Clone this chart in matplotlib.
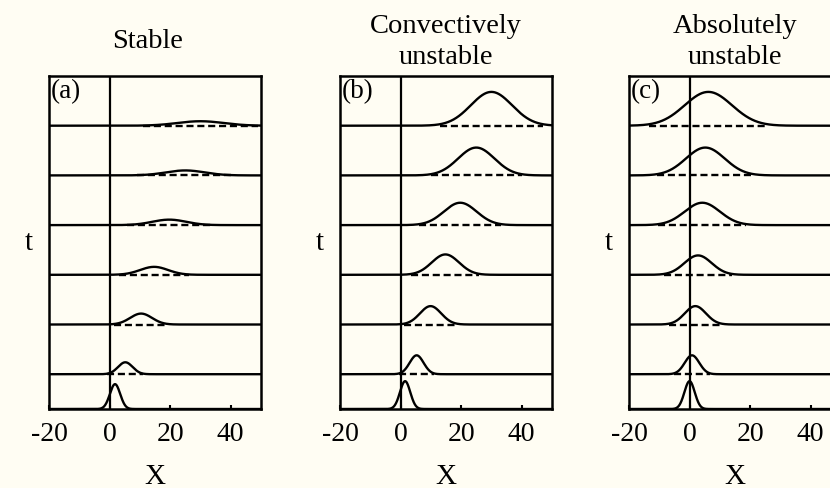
import matplotlib
matplotlib.use('Agg')
import matplotlib.pyplot as plt
import numpy as np

plt.rcParams['font.family'] = ['Liberation Serif', 'DejaVu Serif']
plt.rcParams['axes.unicode_minus'] = False

# wave packet snapshots, bottom (t=0) to top
levels = [0, 0.7, 1.7, 2.7, 3.7, 4.7, 5.7]

stable_center = [1.8, 5.2, 10.4, 14.7, 19.7, 25.0, 30.0]
stable_amp = [0.50, 0.24, 0.22, 0.16, 0.11, 0.10, 0.09]
stable_sigma = [1.7, 2.4, 3.6, 4.6, 5.6, 6.4, 7.6]

conv_center = [1.5, 5.3, 9.9, 14.8, 19.7, 25.0, 30.0]
conv_amp = [0.56, 0.38, 0.37, 0.41, 0.45, 0.56, 0.68]
conv_sigma = [1.7, 2.3, 3.5, 4.5, 5.4, 6.0, 6.8]

abs_center = [0.0, 0.8, 1.9, 2.8, 4.2, 5.2, 6.2]
abs_amp = [0.56, 0.38, 0.37, 0.39, 0.45, 0.56, 0.68]
abs_sigma = [1.7, 2.4, 3.5, 4.5, 5.8, 6.4, 7.8]

titles = ['Stable', 'Convectively\nunstable', 'Absolutely\nunstable']
tags = ['(a)', '(b)', '(c)']
xticks = [-20, 0, 20, 40]

bg = '#fffdf3'
fig = plt.figure(figsize=(8.3, 4.89), dpi=100, facecolor=bg)

W, H = 830.0, 489.0
lefts = [49, 340, 629]
ax_w, ax_top, ax_bot = 212, 77, 410

x = np.linspace(-20, 50, 1400)

panels = [(stable_center, stable_amp, stable_sigma),
          (conv_center, conv_amp, conv_sigma),
          (abs_center, abs_amp, abs_sigma)]

for i, (cen, amp, sig) in enumerate(panels):
    ax = fig.add_axes([lefts[i] / W, (H - ax_bot) / H, ax_w / W, (ax_bot - ax_top) / H])
    ax.set_facecolor(bg)
    ax.set_xlim(-20, 50)
    ax.set_ylim(0, 6.7)
    for k in range(len(levels)):
        y0 = levels[k]
        y = y0 + amp[k] * np.exp(-0.5 * ((x - cen[k]) / sig[k]) ** 2)
        if k > 0:
            # dashed reference level under the packet
            ax.hlines(y0, cen[k] - 2.5 * sig[k], cen[k] + 2.5 * sig[k], colors='k',
                      linewidth=1.7, linestyles=(0, (3.0, 1.6)), zorder=2)
        ax.plot(x, y, color='k', lw=1.7, zorder=3)
    ax.axvline(0, color='k', lw=1.6, zorder=4)

    for s in ax.spines.values():
        s.set_linewidth(1.8)
    ax.set_xticks(xticks)
    ax.set_xticklabels([str(t) for t in xticks])
    ax.set_yticks([])
    ax.tick_params(axis='x', direction='in', length=3, width=1.5, pad=9, labelsize=20)

    ax.text(0.01, 0.995, tags[i], transform=ax.transAxes, ha='left', va='top', fontsize=19.5)
    ax.text(-0.094, 0.5, 't', transform=ax.transAxes, ha='center', va='center', fontsize=21)
    ax.text(0.5, -0.20, 'X', transform=ax.transAxes, ha='center', va='center', fontsize=21)
    if '\n' in titles[i]:
        ax.text(0.5, 1.039, titles[i], transform=ax.transAxes, ha='center',
                va='baseline', fontsize=20.5, linespacing=1.3)
    else:
        ax.text(0.465, 1.087, titles[i], transform=ax.transAxes, ha='center',
                va='baseline', fontsize=20.5)

fig.savefig('out.png', dpi=100, facecolor=bg)
